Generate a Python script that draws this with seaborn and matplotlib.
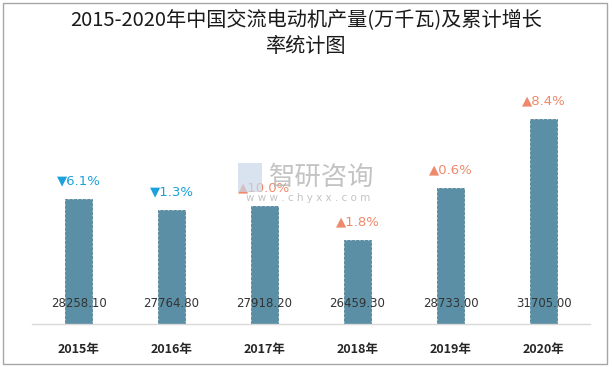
import matplotlib
matplotlib.use("Agg")
import matplotlib.pyplot as plt
import seaborn as sns
import pandas as pd
from matplotlib.patches import Rectangle

years = ["2015年", "2016年", "2017年", "2018年", "2019年", "2020年"]
values = [28258.10, 27764.80, 27918.20, 26459.30, 28733.00, 31705.00]
growth = ["6.1%", "1.3%", "10.0%", "1.8%", "0.6%", "8.4%"]
direction = ["down", "down", "up", "up", "up", "up"]
title = "2015-2020年中国交流电动机产量(万千瓦)及累计增长\n率统计图"

sns.set_theme(style="white")
plt.rcParams['font.family'] = ['Noto Sans CJK SC', 'DejaVu Sans']

df = pd.DataFrame({"year": years, "value": values})

fig = plt.figure(figsize=(6.12, 3.67), dpi=100)
W, H = 612, 367
ax = fig.add_axes([32 / W, 43 / H, 558 / W, 224 / H])

sns.barplot(data=df, x="year", y="value", ax=ax, color="#5b8fa6",
            saturation=1, width=0.3, edgecolor="#4f8299", linewidth=0.6,
            linestyle="--")
ax.set_ylim(22818, 32528)
ax.set_xlim(-0.5, 5.5)
ax.set_xlabel("")
ax.set_ylabel("")
ax.set_yticks([])
for s in ["top", "right", "left"]:
    ax.spines[s].set_visible(False)
ax.spines["bottom"].set_color("#d9d9d9")
ax.spines["bottom"].set_linewidth(1.0)
ax.tick_params(axis="x", length=0, pad=14)
for lbl in ax.get_xticklabels():
    lbl.set_fontsize(9)
    lbl.set_fontweight("bold")
    lbl.set_color("#262626")

# watermark (drawn beneath the labels)
fig.patches.append(Rectangle((238 / W, 1 - 192 / H), 24 / W, 29 / H,
                             transform=fig.transFigure, facecolor="#c9d8ea",
                             edgecolor="none", alpha=0.7, zorder=0))
fig.text(322 / W, 1 - 177 / H, "智研咨询", fontsize=19, color="#b5b5b5",
         ha="center", va="center", alpha=0.8, zorder=0)
fig.text(308 / W, 1 - 198 / H, "w w w . c h y x x . c o m", fontsize=7.5,
         color="#b5b5b5", ha="center", va="center", alpha=0.8,
         family=["DejaVu Sans"], zorder=0)

# value labels near the base
for i, v in enumerate(values):
    ax.annotate(f"{v:.2f}", xy=(i, 22818), xytext=(0, 15), textcoords="offset points",
                ha="center", va="center", fontsize=8.5, color="#333333",
                family=["DejaVu Sans"])

# growth annotations above bars
for i, (v, g, d) in enumerate(zip(values, growth, direction)):
    sym = "▼" if d == "down" else "▲"
    col = "#1ba1dc" if d == "down" else "#f0896b"
    ax.annotate(sym + g, xy=(i, v), xytext=(0, 13), textcoords="offset points",
                ha="center", va="center", fontsize=9.5, color=col,
                family=["DejaVu Sans"])

# title
fig.text(306 / W, 1 - 34 / H, title, ha="center", va="center", fontsize=14.5,
         color="#1a1a1a", linespacing=1.3)

# border
fig.patches.append(Rectangle((3 / W, 3 / H), 604 / W, 361 / H,
                             transform=fig.transFigure, fill=False,
                             edgecolor="#a6a6a6", linewidth=1.0))

fig.savefig("out.png", dpi=100)
